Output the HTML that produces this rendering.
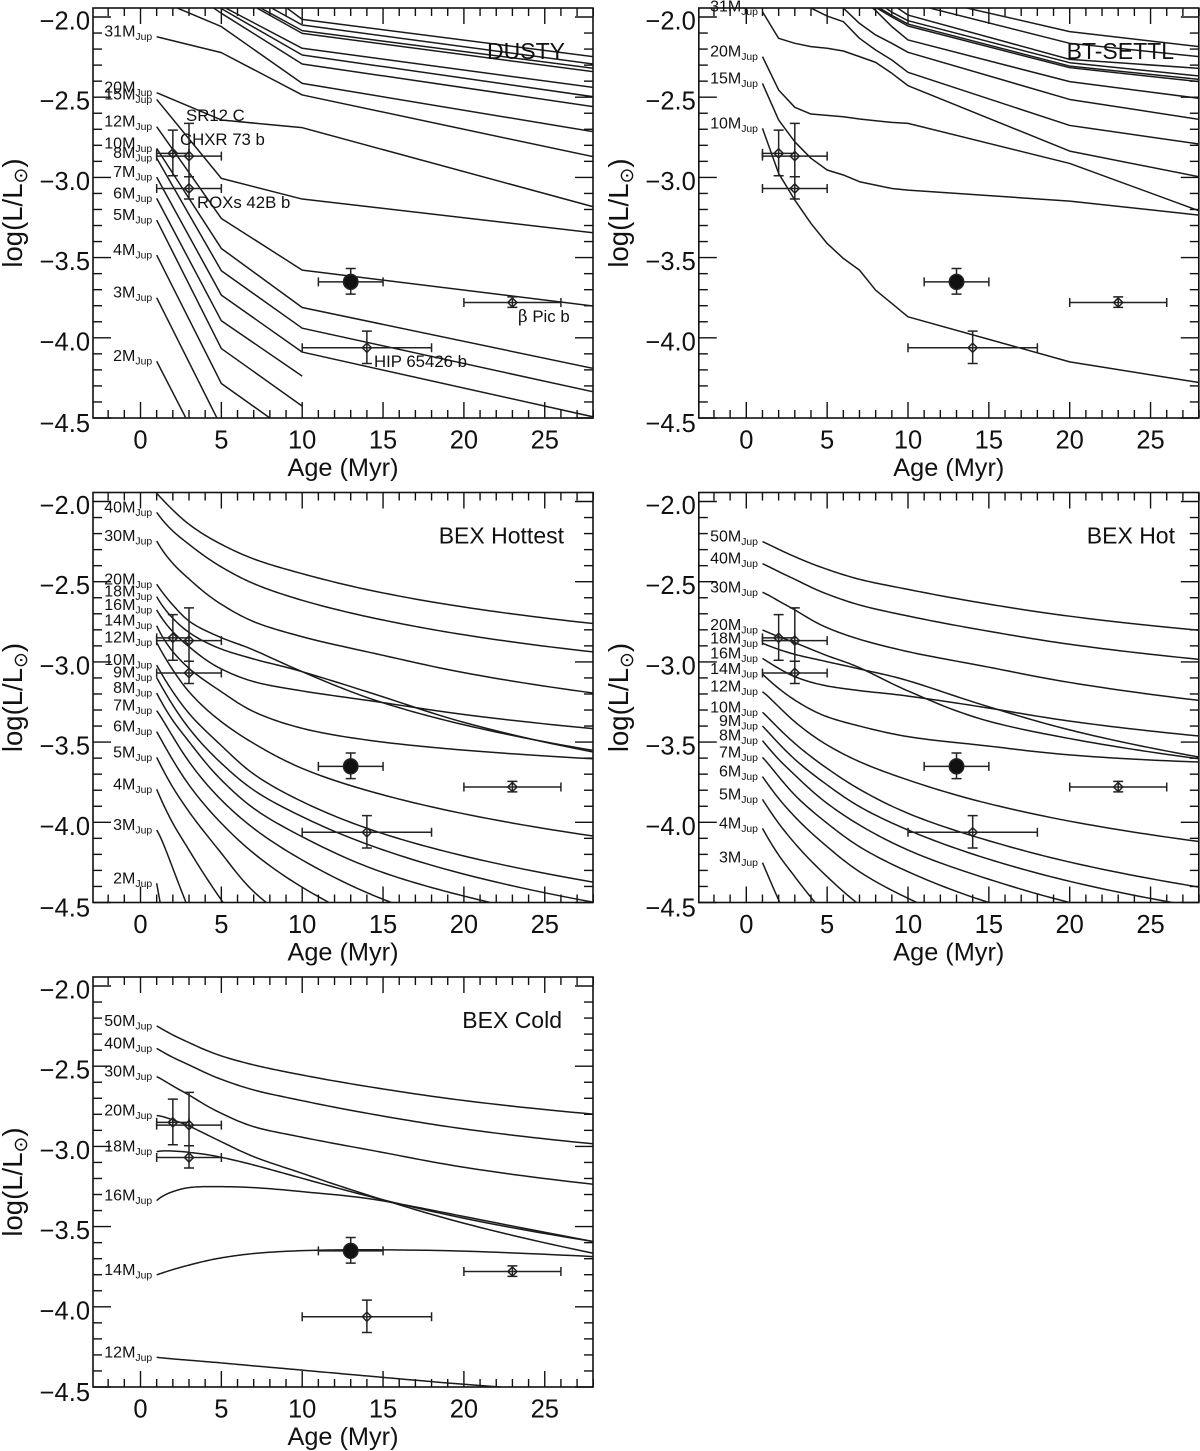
<!DOCTYPE html>
<html>
<head>
<meta charset="utf-8">
<title>Luminosity evolution model panels</title>
<style>
html,body{margin:0;padding:0;background:#fff;}
svg{display:block;}
text{font-family:"Liberation Sans",Arial,sans-serif;fill:#111;}
</style>
</head>
<body>
<svg id="figure" width="1200" height="1451" viewBox="0 0 1200 1451" xmlns="http://www.w3.org/2000/svg">
<g id="plots"></g>
<g font-size="16.8">
<text x="186" y="121">SR12 C</text>
<text x="180" y="145">CHXR 73 b</text>
<text x="197" y="208">ROXs 42B b</text>
<text x="518" y="322"><tspan style="font-family:'DejaVu Serif','Liberation Serif',serif">β</tspan> Pic b</text>
<text x="374" y="367">HIP 65426 b</text>
</g>
</svg>
<script>
const dustyAges = [1, 5, 10, 28];
const dustyLabels = [null, null, null, null, null, null, null, null, '31', '20', '15', '12', '10', '8', '7', '6', '5', '4', '3', '2'];
const dustyCurves = [
  [-1.4, -1.64, -2.015, -2.247],
  [-1.5, -1.77, -2.05, -2.293],
  [-1.55, -1.81, -2.085, -2.32],
  [-1.56, -1.82, -2.102, -2.341],
  [-1.6, -1.93, -2.195, -2.439],
  [-1.6, -1.948, -2.237, -2.497],
  [-1.7, -1.977, -2.293, -2.559],
  [-1.89, -2.06, -2.414, -2.715],
  [-2.123, -2.222, -2.486, -2.871],
  [-2.472, -2.642, -2.69, -3.183],
  [-2.514, -3.006, -3.135, -3.345],
  [-2.684, -3.256, -3.578, -3.802],
  [-2.819, -3.443, -3.811, -4.191],
  [-2.88, -3.582, -3.94, -4.337],
  [-2.998, -3.734, -4.089, -4.493],
  [-3.131, -3.894, -4.239],
  [-3.266, -4.067, -4.426],
  [-3.484, -4.285, -4.643],
  [-3.75, -4.555],
  [-4.146, -4.93]
];

const settlAges = [1, 2, 3, 4, 5, 6, 7, 8, 9, 10, 20, 28];
const settlLabels = [null, null, null, null, null, null, null, null, null, '31', '20', '15', '10'];
const settlCurves = [
  [null, null, null, null, null, null, null, null, null, -1.86, -2.091, -2.185],
  [null, null, null, null, null, null, null, null, null, -1.91, -2.164, -2.247],
  [null, null, null, null, null, null, null, null, -1.92, -1.988, -2.264, -2.32],
  [null, null, null, null, null, null, null, -1.9, -1.97, -2.023, -2.285, -2.368],
  [null, null, null, null, null, null, null, -1.93, -1.99, -2.044, -2.306, -2.389],
  [null, null, null, null, null, null, null, -1.94, -2.0, -2.056, -2.316, -2.403],
  [null, null, null, null, null, null, -1.88, -1.96, -2.06, -2.143, -2.403, -2.507],
  [null, null, null, null, -1.85, -1.944, -2.04, -2.112, -2.164, -2.22, -2.514, -2.638],
  [null, null, -1.85, -1.944, -1.994, -2.029, -2.133, -2.206, -2.268, -2.345, -2.676, -2.792],
  [-1.967, -2.133, -2.164, -2.185, -2.195, -2.212, -2.247, -2.283, -2.351, -2.428, -2.836, -2.996],
  [-2.247, -2.455, -2.563, -2.605, -2.613, -2.622, -2.636, -2.647, -2.657, -2.663, -2.913, -3.208],
  [-2.414, -2.642, -2.778, -2.881, -2.954, -2.985, -3.027, -3.048, -3.069, -3.079, -3.148, -3.235],
  [-2.694, -2.975, -3.141, -3.287, -3.412, -3.505, -3.578, -3.703, -3.786, -3.869, -4.15, -4.279]
];

const bexAges = [1, 2, 3, 5, 7, 10, 15, 20, 28];

const hottestLabels = [null, '40', '30', '20', '18', '16', '14', '12', '10', '9', '8', '7', '6', '5', '4', '3', '2'];
const hottestCurves = [
  [-1.949, -2.053, -2.142, -2.267, -2.358, -2.45, -2.57, -2.658, -2.761],
  [-2.068, -2.184, -2.267, -2.408, -2.512, -2.616, -2.739, -2.831, -2.938],
  [-2.246, -2.386, -2.483, -2.641, -2.749, -2.843, -2.959, -3.067, -3.194],
  [-2.516, -2.645, -2.745, -2.849, -2.926, -3.061, -3.255, -3.392, -3.552],
  [-2.593, -2.728, -2.816, -2.92, -2.982, -3.061, -3.218, -3.377, -3.562],
  [-2.676, -2.812, -2.905, -3.044, -3.123, -3.181, -3.254, -3.328, -3.416],
  [-2.774, -2.936, -3.04, -3.186, -3.31, -3.414, -3.5, -3.55, -3.604],
  [-2.88, -3.05, -3.186, -3.373, -3.508, -3.664, -3.829, -3.947, -4.086],
  [-3.02, -3.186, -3.321, -3.522, -3.699, -3.871, -4.071, -4.21, -4.373],
  [-3.098, -3.27, -3.414, -3.632, -3.799, -3.965, -4.172, -4.323, -4.498],
  [-3.194, -3.365, -3.497, -3.736, -3.913, -4.09, -4.313, -4.46, -4.63],
  [-3.304, -3.466, -3.622, -3.861, -4.038, -4.235, -4.48, -4.65, -4.85],
  [-3.435, -3.612, -3.767, -4.006, -4.193, -4.405, -4.66],
  [-3.595, -3.782, -3.934, -4.193, -4.432, -4.65],
  [-3.794, -4.006, -4.173, -4.484, -4.75],
  [-4.048, -4.287, -4.547],
  [-4.38, -4.94]
];

const hotLabels = ['50', '40', '30', '20', '18', '16', '14', '12', '10', '9', '8', '7', '6', '5', '4', '3'];
const hotCurves = [
  [-2.25, -2.298, -2.344, -2.423, -2.485, -2.548, -2.64, -2.715, -2.803],
  [-2.388, -2.437, -2.485, -2.577, -2.645, -2.714, -2.809, -2.89, -2.984],
  [-2.566, -2.62, -2.676, -2.787, -2.859, -2.936, -3.033, -3.128, -3.24],
  [-2.801, -2.843, -2.88, -2.961, -3.036, -3.181, -3.37, -3.478, -3.604],
  [-2.884, -2.922, -2.953, -2.999, -3.044, -3.117, -3.28, -3.424, -3.593],
  [-2.978, -3.04, -3.092, -3.15, -3.179, -3.213, -3.288, -3.369, -3.462],
  [-3.076, -3.165, -3.238, -3.342, -3.4, -3.466, -3.525, -3.58, -3.624],
  [-3.186, -3.279, -3.373, -3.518, -3.622, -3.736, -3.884, -3.993, -4.12],
  [-3.314, -3.414, -3.508, -3.664, -3.794, -3.944, -4.115, -4.248, -4.404],
  [-3.4, -3.508, -3.607, -3.767, -3.902, -4.048, -4.23, -4.368, -4.529],
  [-3.491, -3.607, -3.705, -3.882, -4.017, -4.173, -4.355, -4.5, -4.67],
  [-3.595, -3.715, -3.83, -4.006, -4.152, -4.308, -4.5, -4.64, -4.8],
  [-3.715, -3.851, -3.965, -4.152, -4.308, -4.474, -4.68],
  [-3.857, -4.006, -4.131, -4.339, -4.515, -4.72],
  [-4.038, -4.204, -4.339, -4.588, -4.8],
  [-4.252, -4.484, -4.69]
];

const coldLabels = ['50', '40', '30', '20', '18', '16', '14', '12'];
const coldCurves = [
  [-2.249, -2.305, -2.353, -2.436, -2.492, -2.555, -2.642, -2.714, -2.799],
  [-2.389, -2.445, -2.492, -2.582, -2.648, -2.715, -2.811, -2.891, -2.984],
  [-2.565, -2.623, -2.68, -2.794, -2.877, -2.943, -3.038, -3.13, -3.236],
  [-2.808, -2.835, -2.873, -2.971, -3.064, -3.168, -3.333, -3.479, -3.666],
  [-3.033, -3.029, -3.037, -3.068, -3.116, -3.199, -3.333, -3.448, -3.593],
  [-3.338, -3.282, -3.257, -3.251, -3.257, -3.282, -3.34, -3.437, -3.593],
  [-3.801, -3.768, -3.74, -3.695, -3.668, -3.65, -3.645, -3.653, -3.687],
  [-4.315, -4.325, -4.333, -4.35, -4.368, -4.395, -4.44, -4.483, -4.54]
];

const pointAges = [2, 3, 3, 13, 23, 14];
const pointLums = [-2.85, -2.867, -3.069, -3.651, -3.78, -4.062];
const pointAgeLow = [1, 1, 1, 11, 20, 10];
const pointAgeHigh = [3, 5, 5, 15, 26, 18];
const pointLumHigh = [-2.705, -2.663, -2.996, -3.568, -3.745, -3.958];
const pointLumLow = [-2.99, -2.996, -3.135, -3.728, -3.81, -4.16];
const pointFilled = [false, false, false, true, false, false];

const xTickLabels = [0, 5, 10, 15, 20, 25];
const yTickLabels = [-2.0, -2.5, -3.0, -3.5, -4.0, -4.5];

const panelTitles = ['DUSTY', 'BT-SETTL', 'BEX Hottest', 'BEX Hot', 'BEX Cold'];
const panelAges = [dustyAges, settlAges, bexAges, bexAges, bexAges];
const panelLabels = [dustyLabels, settlLabels, hottestLabels, hotLabels, coldLabels];
const panelCurves = [dustyCurves, settlCurves, hottestCurves, hotCurves, coldCurves];
const panelSmooth = [false, false, true, true, true];
const panelLefts = [93, 698.8, 93, 698.8, 93];
const panelBottoms = [418, 418, 902.5, 902.5, 1387];
const panelTitleRights = [565, 1174, 564, 1175, 562];

const NS = 'http://www.w3.org/2000/svg';
const plotsGroup = document.getElementById('plots');
const PLOT_W = 500, PLOT_H = 410, X0 = 47.5, XU = 16.17, YU = 160.4;
const YMIN = -4.5;

function mk(tag, parent, attrs) {
  const el = document.createElementNS(NS, tag);
  for (const k in attrs) el.setAttribute(k, attrs[k]);
  parent.appendChild(el);
  return el;
}

function polyPath(pts) {
  return pts.map((p, i) => (i ? 'L' : 'M') + p[0].toFixed(2) + ' ' + p[1].toFixed(2)).join(' ');
}

// Smooth through the read-off values in log(age), then sample back to linear age.
function logAgeSpline(ages, vals) {
  const n = vals.length;
  if (n < 3) return ages.slice(0, n).map((a, i) => [a, vals[i]]);
  const u = ages.slice(0, n).map(a => Math.log(a));
  const h = [], s = [], m = [];
  for (let i = 0; i < n - 1; i++) {
    h[i] = u[i + 1] - u[i];
    s[i] = (vals[i + 1] - vals[i]) / h[i];
  }
  for (let i = 1; i < n - 1; i++) {
    m[i] = (s[i - 1] * h[i] + s[i] * h[i - 1]) / (h[i] + h[i - 1]);
  }
  m[0] = 2 * s[0] - m[1];
  m[n - 1] = 2 * s[n - 2] - m[n - 2];
  const out = [];
  for (let i = 0; i < n - 1; i++) {
    for (let k = 0; k < 14; k++) {
      const t = k / 14, t2 = t * t, t3 = t2 * t;
      const v = (2 * t3 - 3 * t2 + 1) * vals[i] + (t3 - 2 * t2 + t) * h[i] * m[i] +
        (-2 * t3 + 3 * t2) * vals[i + 1] + (t3 - t2) * h[i] * m[i + 1];
      out.push([Math.exp(u[i] + t * h[i]), v]);
    }
  }
  out.push([ages[n - 1], vals[n - 1]]);
  return out;
}

function drawPanel(idx) {
  const left = panelLefts[idx], bottom = panelBottoms[idx], top = bottom - PLOT_H, right = left + PLOT_W;
  const xScale = a => left + X0 + a * XU;
  const yScale = v => bottom - (v - YMIN) * YU;

  const g = mk('g', plotsGroup, {});
  
  

  const clipDefs = mk('defs', g, {});
  const clip = mk('clipPath', clipDefs, { id: 'clip' + idx });
  mk('rect', clip, { x: left, y: top, width: PLOT_W, height: PLOT_H });

  // ticks
  const axisG = mk('g', g, { stroke: '#111', 'stroke-width': 1.4, fill: 'none' });
  
  
  for (let a = -2; a <= 28; a++) {
    const major = a % 5 === 0, len = major ? 16 : 8, x = xScale(a);
    mk('line', axisG, { x1: x, x2: x, y1: bottom, y2: bottom - len });
    mk('line', axisG, { x1: x, x2: x, y1: top, y2: top + len });
  }
  for (let k = 20; k <= 45; k++) {
    const major = k % 5 === 0, len = major ? 18 : 9, y = yScale(-k / 10);
    mk('line', axisG, { x1: left, x2: left + len, y1: y, y2: y });
    mk('line', axisG, { x1: right, x2: right - len, y1: y, y2: y });
  }
  const frame = mk('rect', g, { x: left, y: top, width: PLOT_W, height: PLOT_H, fill: 'none', stroke: '#111', 'stroke-width': 1.6 });
  
  

  // curves
  const ages = panelAges[idx], curves = panelCurves[idx], labels = panelLabels[idx];
  const curveG = mk('g', g, { 'clip-path': 'url(#clip' + idx + ')', fill: 'none', stroke: '#1a1a1a', 'stroke-width': 1.5, 'stroke-linejoin': 'round' });
  
  
  curves.forEach((vals, c) => {
    let raw;
    if (panelSmooth[idx]) {
      raw = logAgeSpline(ages, vals);
    } else {
      raw = [];
      vals.forEach((v, i) => { if (v !== null) raw.push([ages[i], v]); });
    }
    const pts = raw.map(p => [xScale(p[0]), yScale(p[1])]);
    const path = mk('path', curveG, { d: polyPath(pts) });
    
    
    if (labels[c]) {
      const t = mk('text', g, { x: xScale(1) - 4.5, y: yScale(vals[0]), 'text-anchor': 'end', 'font-size': 16 });
      
      
      t.appendChild(document.createTextNode(labels[c] + 'M'));
      const sub = mk('tspan', t, { dy: 3.5, 'font-size': 10.4 });
      sub.textContent = 'Jup';
    }
  });

  // tick labels
  xTickLabels.forEach(a => {
    const t = mk('text', g, { x: xScale(a), y: bottom + 30.5, 'text-anchor': 'middle', 'font-size': 25.5 });
    
    
    t.textContent = String(a);
  });
  yTickLabels.forEach(v => {
    const t = mk('text', g, { x: left - 3, y: yScale(v) + (v === YMIN ? 14 : 12.5), 'text-anchor': 'end', 'font-size': 25.5 });
    
    
    t.textContent = '\u2212' + Math.abs(v).toFixed(1);
  });

  // axis titles
  const xt = mk('text', g, { x: left + 250, y: bottom + 58, 'text-anchor': 'middle', 'font-size': 25.3 });
  
  
  xt.textContent = 'Age (Myr)';

  const yx = left - 71, yy = bottom - 205;
  const yt = mk('text', g, { x: yx, y: yy, 'text-anchor': 'middle', 'font-size': 27.5, transform: 'rotate(-90 ' + yx + ' ' + yy + ')' });
  
  
  yt.appendChild(document.createTextNode('log(L/L'));
  const sun = mk('tspan', yt, { dy: 5, 'font-size': 19 });
  sun.setAttribute('style', "font-family:'DejaVu Sans',sans-serif");
  sun.textContent = '\u2299';
  const close = mk('tspan', yt, { dy: -5 });
  close.textContent = ')';

  // panel title
  const title = mk('text', g, { x: panelTitleRights[idx], y: top + 51, 'text-anchor': 'end', 'font-size': 23 });
  
  
  title.textContent = panelTitles[idx];

  // data points
  const ptG = mk('g', g, { stroke: '#222', 'stroke-width': 1.5, fill: 'none' });
  
  
  pointAges.forEach((a, i) => {
    const x = xScale(a), y = yScale(pointLums[i]);
    const xl = xScale(pointAgeLow[i]), xh = xScale(pointAgeHigh[i]);
    const yh = yScale(pointLumHigh[i]), yl = yScale(pointLumLow[i]);
    const bars = mk('path', ptG, {
      d: 'M' + xl + ' ' + y + 'H' + xh + ' M' + xl + ' ' + (y - 4.5) + 'V' + (y + 4.5) + ' M' + xh + ' ' + (y - 4.5) + 'V' + (y + 4.5) +
        ' M' + x + ' ' + yh + 'V' + yl + ' M' + (x - 5) + ' ' + yh + 'H' + (x + 5) + ' M' + (x - 5) + ' ' + yl + 'H' + (x + 5)
    });
    
    
    let mark;
    if (pointFilled[i]) {
      mark = mk('ellipse', ptG, { cx: x, cy: y, rx: 7.2, ry: 7.5, fill: '#111' });
    } else {
      mark = mk('path', ptG, { d: 'M' + (x - 4.6) + ' ' + y + 'L' + x + ' ' + (y - 4.6) + 'L' + (x + 4.6) + ' ' + y + 'L' + x + ' ' + (y + 4.6) + 'Z' });
    }
    
    
  });
}

panelTitles.forEach((_, i) => drawPanel(i));
</script>
</body>
</html>
